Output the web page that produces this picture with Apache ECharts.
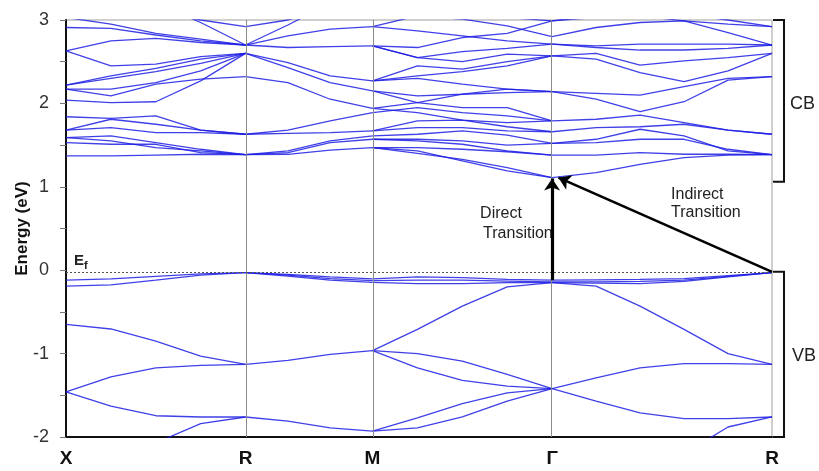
<!DOCTYPE html>
<html>
<head>
<meta charset="utf-8">
<script src="https://cdn.jsdelivr.net/npm/echarts@6/dist/echarts.min.js"></script>
<style>
  html, body { margin: 0; padding: 0; background: #fff; }
  #chart { width: 819px; height: 471px; }
</style>
</head>
<body>
<div id="chart"></div>
<script>
// High-symmetry points along the k-path (distance in units of 2π/a)
const symLabels = ['X', 'R', 'M', 'Γ', 'R'];
const symK = [0, 0.7071, 1.2071, 1.9142, 2.7802];

// k-sampling of each path segment
const kXR = [0, 0.1768, 0.3536, 0.5303, 0.7071];
const kRM = [0.7071, 0.8738, 1.0404, 1.2071];
const kMG = [1.2071, 1.3839, 1.5607, 1.7374, 1.9142];
const kGR = [1.9142, 2.0874, 2.2606, 2.4338, 2.6070, 2.7802];

// Band energies (eV) on each segment, one row per band
const bandsXR = [
  [3.03, 2.95, 2.84, 2.77, 2.70],
  [2.91, 2.90, 2.82, 2.75, 2.70],
  [2.63, 2.75, 2.78, 2.73, 2.70],
  [2.63, 2.45, 2.47, 2.56, 2.60],
  [2.22, 2.33, 2.42, 2.53, 2.60],
  [2.22, 2.30, 2.38, 2.48, 2.60],
  [2.17, 2.17, 2.25, 2.39, 2.60],
  [2.17, 2.09, 2.23, 2.29, 2.32],
  [2.04, 2.01, 2.02, 2.27, 2.60],
  [3.50, 3.30, 3.12, 3.00, 2.92],
  [3.50, 3.35, 3.20, 2.97, 2.70],
  [1.84, 1.82, 1.85, 1.68, 1.63],
  [1.68, 1.81, 1.75, 1.68, 1.63],
  [1.68, 1.71, 1.65, 1.65, 1.63],
  [1.59, 1.61, 1.53, 1.45, 1.385],
  [1.59, 1.55, 1.47, 1.43, 1.385],
  [1.53, 1.51, 1.51, 1.41, 1.385],
  [1.37, 1.37, 1.38, 1.39, 1.385],
  [-0.12, -0.105, -0.075, -0.045, -0.03],
  [-0.19, -0.175, -0.12, -0.06, -0.03],
  [-0.65, -0.705, -0.85, -1.03, -1.13],
  [-1.46, -1.28, -1.17, -1.14, -1.13],
  [-1.46, -1.63, -1.745, -1.76, -1.76],
  [-2.40, -2.22, -2.07, -1.84, -1.76]
];
const bandsRM = [
  [2.92, 3.00, 3.15, 3.25],
  [2.70, 2.94, 3.20, 3.35],
  [2.70, 2.81, 2.89, 2.92],
  [2.70, 2.67, 2.68, 2.69],
  [2.60, 2.49, 2.33, 2.27],
  [2.60, 2.43, 2.25, 2.15],
  [2.32, 2.25, 2.05, 1.94],
  [1.63, 1.68, 1.79, 1.89],
  [1.63, 1.64, 1.65, 1.67],
  [1.385, 1.43, 1.55, 1.61],
  [1.385, 1.41, 1.53, 1.57],
  [1.385, 1.39, 1.44, 1.47],
  [-0.03, -0.05, -0.08, -0.105],
  [-0.03, -0.06, -0.10, -0.125],
  [-0.03, -0.07, -0.12, -0.145],
  [-1.13, -1.08, -1.01, -0.965],
  [-1.76, -1.81, -1.89, -1.93]
];
const bandsMG = [
  [2.92, 2.87, 2.81, 2.75, 2.71],
  [2.92, 3.05, 3.01, 2.93, 2.80],
  [3.20, 3.12, 3.06, 3.03, 2.99],
  [2.69, 2.67, 2.79, 2.84, 2.99],
  [2.69, 2.55, 2.62, 2.66, 2.71],
  [2.69, 2.55, 2.50, 2.59, 2.57],
  [2.27, 2.45, 2.41, 2.50, 2.57],
  [2.27, 2.33, 2.38, 2.45, 2.57],
  [2.27, 2.30, 2.23, 2.17, 2.14],
  [2.15, 2.09, 2.11, 2.17, 2.14],
  [1.94, 2.01, 2.11, 2.13, 2.14],
  [2.15, 2.01, 1.95, 1.95, 1.79],
  [1.94, 1.89, 1.80, 1.77, 1.79],
  [1.89, 1.95, 1.89, 1.85, 1.79],
  [1.67, 1.79, 1.80, 1.72, 1.66],
  [1.67, 1.71, 1.71, 1.67, 1.66],
  [1.61, 1.63, 1.67, 1.62, 1.52],
  [1.57, 1.57, 1.55, 1.50, 1.52],
  [1.57, 1.55, 1.51, 1.43, 1.38],
  [1.47, 1.47, 1.45, 1.42, 1.38],
  [1.47, 1.43, 1.31, 1.19, 1.11],
  [1.47, 1.40, 1.33, 1.23, 1.11],
  [-0.105, -0.08, -0.09, -0.11, -0.12],
  [-0.125, -0.12, -0.12, -0.13, -0.14],
  [-0.145, -0.16, -0.16, -0.15, -0.15],
  [-0.965, -0.71, -0.43, -0.20, -0.15],
  [-0.965, -1.00, -1.09, -1.25, -1.42],
  [-0.965, -1.17, -1.32, -1.39, -1.42],
  [-1.93, -1.77, -1.60, -1.47, -1.42],
  [-1.93, -1.89, -1.76, -1.57, -1.42]
];
const bandsGR = [
  [2.99, 3.03, 3.05, 2.99, 2.85, 2.70],
  [2.99, 3.06, 3.10, 3.07, 3.00, 2.92],
  [2.80, 2.91, 2.97, 2.99, 2.95, 2.92],
  [2.71, 2.69, 2.71, 2.71, 2.71, 2.70],
  [2.71, 2.67, 2.64, 2.64, 2.66, 2.70],
  [2.57, 2.60, 2.46, 2.51, 2.55, 2.60],
  [2.57, 2.53, 2.37, 2.26, 2.39, 2.60],
  [2.14, 2.12, 2.10, 2.20, 2.30, 2.32],
  [2.14, 2.05, 1.90, 2.02, 2.28, 2.32],
  [1.79, 1.81, 1.86, 1.77, 1.68, 1.63],
  [1.66, 1.71, 1.72, 1.75, 1.68, 1.63],
  [1.52, 1.57, 1.69, 1.61, 1.43, 1.385],
  [1.52, 1.53, 1.57, 1.57, 1.45, 1.385],
  [1.38, 1.38, 1.41, 1.39, 1.39, 1.385],
  [1.11, 1.17, 1.27, 1.35, 1.38, 1.385],
  [-0.12, -0.115, -0.11, -0.10, -0.065, -0.03],
  [-0.14, -0.14, -0.135, -0.12, -0.075, -0.03],
  [-0.15, -0.155, -0.16, -0.135, -0.08, -0.03],
  [-0.15, -0.19, -0.43, -0.71, -1.00, -1.13],
  [-1.42, -1.29, -1.17, -1.12, -1.12, -1.13],
  [-1.42, -1.57, -1.71, -1.78, -1.78, -1.76],
  [-2.60, -2.50, -2.40, -2.20, -1.88, -1.76]
];

// Band edges and Fermi level (eV)
const fermiLevel = -0.03;
const vbmGamma = -0.12;
const cbmGamma = 1.10;
const vbmR = -0.02;
// Extents of the CB / VB brackets (eV)
const cbSpan = [3.0, 1.06];
const vbSpan = [-0.02, -2.0];

const FONT = '"Liberation Sans", Arial, sans-serif';
const BAND_COLOR = 'rgba(30, 30, 228, 0.85)';

const segments = [[kXR, bandsXR], [kRM, bandsRM], [kMG, bandsMG], [kGR, bandsGR]];
const series = [];
segments.forEach(([ks, bands]) => {
  bands.forEach(b => {
    series.push({
      type: 'line',
      data: ks.map((k, i) => [k, b[i]]),
      showSymbol: false,
      clip: true,
      silent: true,
      z: 3,
      lineStyle: { color: BAND_COLOR, width: 1.3 }
    });
  });
});

// Symmetry-point verticals and the Fermi level
series.push({
  type: 'line',
  data: [],
  silent: true,
  z: 1,
  markLine: {
    silent: true,
    symbol: 'none',
    animation: false,
    label: { show: false },
    data: [
      ...symK.slice(1, 4).map(k => ({ xAxis: k, lineStyle: { color: '#8a8a8a', width: 1, type: 'solid' } })),
      { yAxis: fermiLevel, lineStyle: { color: '#555', width: 1.2, type: [2, 2] } }
    ]
  }
});

// Direct and indirect transition arrows
series.push({
  type: 'line',
  data: [],
  silent: true,
  z: 5,
  markLine: {
    silent: true,
    symbol: ['none', 'arrow'],
    symbolSize: 12,
    animation: false,
    label: { show: false },
    lineStyle: { color: '#000', type: 'solid', width: 3 },
    data: [
      [{ coord: [symK[3], vbmGamma], lineStyle: { width: 3.2 } }, { coord: [symK[3], cbmGamma] }],
      [{ coord: [symK[4], vbmR], lineStyle: { width: 2.6 } }, { coord: [symK[3] + 0.025, cbmGamma + 0.01] }]
    ]
  }
});

const option = {
  animation: false,
  backgroundColor: '#fff',
  grid: {
    left: 66, right: 47, top: 20, bottom: 34,
    show: true, borderColor: '#a0a0a0', borderWidth: 1
  },
  xAxis: {
    type: 'value',
    min: symK[0],
    max: symK[4],
    axisLine: { show: true, onZero: false, lineStyle: { color: '#111', width: 2 } },
    axisTick: { show: false },
    splitLine: { show: false },
    axisLabel: {
      customValues: symK,
      formatter: v => {
        const i = symK.findIndex(k => Math.abs(k - v) < 1e-6);
        return i >= 0 ? symLabels[i] : '';
      },
      fontFamily: FONT,
      fontSize: 19,
      fontWeight: 'bold',
      color: '#111',
      margin: 12
    }
  },
  yAxis: {
    type: 'value',
    min: -2,
    max: 3,
    interval: 0.5,
    name: 'Energy (eV)',
    nameLocation: 'middle',
    nameGap: 35,
    nameMoveOverlap: false,
    nameTextStyle: { fontFamily: FONT, fontSize: 17, fontWeight: 'bold', color: '#111' },
    axisLine: { show: true, onZero: false, lineStyle: { color: '#111', width: 2 } },
    axisTick: { show: true, inside: false, length: 6, lineStyle: { color: '#777' } },
    splitLine: { show: false },
    axisLabel: {
      formatter: v => (Number.isInteger(v) ? String(v) : ''),
      fontFamily: FONT,
      fontSize: 18,
      color: '#333',
      margin: 17
    }
  },
  series
};

const chart = echarts.init(document.getElementById('chart'));
chart.setOption(option);

// Annotations placed from axis coordinates
const toPx = (k, e) => chart.convertToPixel({ gridIndex: 0 }, [k, e]);
const [xG, yC] = toPx(symK[3], cbmGamma);
const [xEnd, yCbTop] = toPx(symK[4], cbSpan[0]);
const yCbBot = toPx(symK[4], cbSpan[1])[1];
const yVbTop = toPx(symK[4], vbSpan[0])[1];
const yVbBot = toPx(symK[4], vbSpan[1])[1];
const [xStart, yEf] = toPx(symK[0], fermiLevel);

const bracket = (y0, y1) => ({
  type: 'polyline',
  silent: true,
  shape: { points: [[xEnd + 1, y0], [xEnd + 12, y0], [xEnd + 12, y1], [xEnd + 1, y1]] },
  style: { stroke: '#111', lineWidth: 2, fill: null }
});
const label = (text, x, y, size, weight) => ({
  type: 'text',
  silent: true,
  x, y,
  style: {
    text,
    font: (weight || 'normal') + ' ' + size + 'px ' + FONT,
    fill: '#222',
    align: 'left',
    verticalAlign: 'middle'
  }
});

chart.setOption({
  graphic: [
    bracket(yCbTop, yCbBot),
    bracket(yVbTop, yVbBot),
    label('CB', xEnd + 18, (yCbTop + yCbBot) / 2 + 3, 18),
    label('VB', xEnd + 20, (yVbTop + yVbBot) / 2 + 2, 18),
    label('E', xStart + 8, yEf - 12, 15, 'bold'),
    label('f', xStart + 18, yEf - 7, 11, 'bold'),
    label('Direct', xG - 72, yC + 35, 16),
    label('Transition', xG - 69, yC + 55, 16),
    label('Indirect', xG + 119, yC + 16, 16),
    label('Transition', xG + 119, yC + 34, 16)
  ]
});
</script>
</body>
</html>
